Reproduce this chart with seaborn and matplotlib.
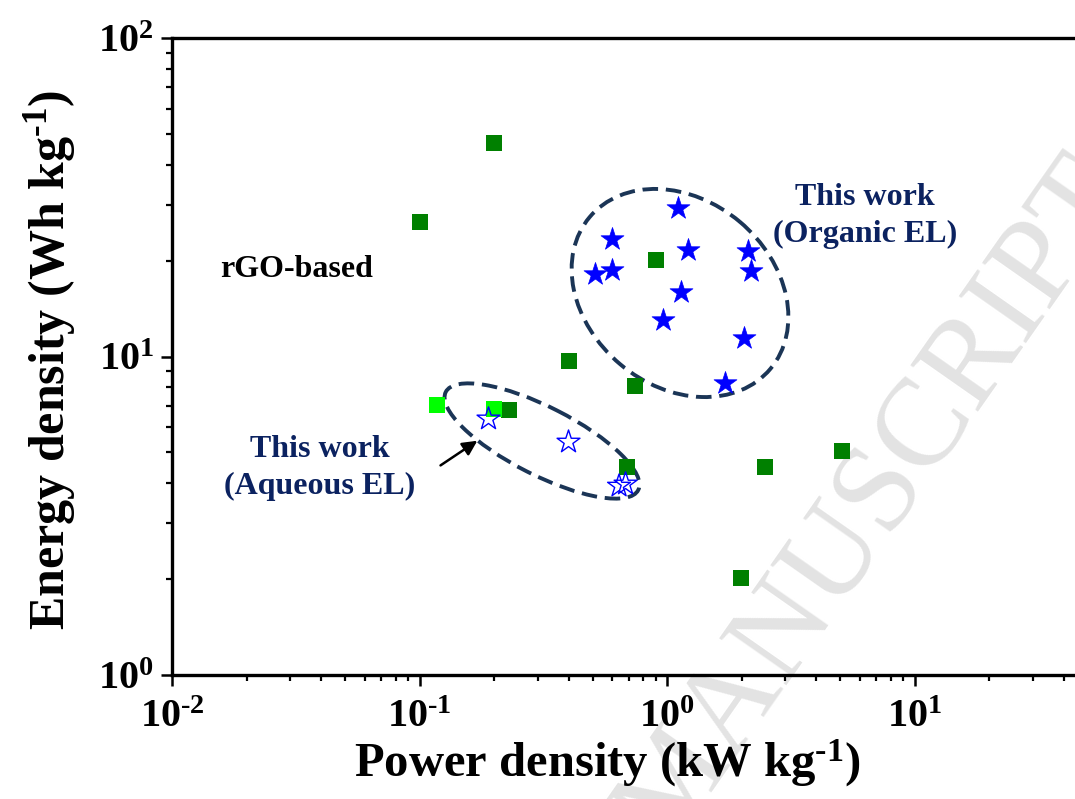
import numpy as np
import pandas as pd
import seaborn as sns
import matplotlib.pyplot as plt
from matplotlib.patches import Ellipse
from matplotlib.transforms import Affine2D
from matplotlib.ticker import LogLocator, FixedLocator, FuncFormatter, NullFormatter

# rGO-based literature values (dark green)
rgo_power = [0.20, 0.10, 0.90, 0.40, 0.74, 0.23, 0.69, 2.49, 5.1, 1.99]
rgo_energy = [46.8, 26.4, 20.1, 9.7, 8.1, 6.8, 4.5, 4.5, 5.05, 2.02]
# light green literature values
lit2_power = [0.118, 0.20]
lit2_energy = [7.04, 6.84]
# this work, organic electrolyte (filled stars)
org_power = [1.11, 0.60, 1.22, 2.13, 2.19, 0.51, 0.60, 1.14, 0.96, 2.05, 1.72]
org_energy = [29.3, 23.4, 21.6, 21.4, 18.5, 18.2, 18.7, 15.9, 13.0, 11.4, 8.26]
# this work, aqueous electrolyte (hollow stars)
aq_power = [0.19, 0.40, 0.68, 0.64]
aq_energy = [6.37, 5.39, 3.98, 3.92]

sns.set_style("ticks")
plt.rcParams['font.family'] = ['Liberation Serif', 'DejaVu Serif']
plt.rcParams['font.weight'] = 'bold'
plt.rcParams['mathtext.fontset'] = 'custom'
plt.rcParams['mathtext.rm'] = 'Liberation Serif:bold'
plt.rcParams['mathtext.bf'] = 'Liberation Serif:bold'
plt.rcParams['mathtext.it'] = 'Liberation Serif:bold:italic'
plt.rcParams['text.color'] = 'black'
plt.rcParams['axes.labelcolor'] = 'black'
plt.rcParams['xtick.color'] = 'black'
plt.rcParams['ytick.color'] = 'black'

fig = plt.figure(figsize=(10.75, 7.99), dpi=100)
fig.patch.set_facecolor('white')
ax = fig.add_axes([172 / 1075, 124 / 799, 1 - 172 / 1075, 637 / 799])
ax.set_facecolor('none')

# watermark of the source document
fig.text(1.03, 0.78, 'ACCEPTED MANUSCRIPT', fontsize=90, color='#e3e3e3',
         fontweight='normal', rotation=55, rotation_mode='anchor',
         ha='right', va='center', zorder=-1)

navy = '#0b2260'
sns.scatterplot(x=rgo_power, y=rgo_energy, marker='s', s=135, color='#008000',
                linewidth=0, ax=ax, zorder=3)
sns.scatterplot(x=lit2_power, y=lit2_energy, marker='s', s=135, color='#00ff00',
                linewidth=0, ax=ax, zorder=3)
sns.scatterplot(x=org_power, y=org_energy, marker='*', s=300, color='#0000ff',
                linewidth=0.5, edgecolor='#0000ff', ax=ax, zorder=4)
sns.scatterplot(x=aq_power, y=aq_energy, marker='*', s=300, facecolors='none',
                edgecolors='#0000ff', linewidth=1.0, ax=ax, zorder=4)

ax.set_xscale('log')
ax.set_yscale('log')
ax.set_xlim(0.01, 44.5)
ax.set_ylim(1, 100)

# ellipses drawn in image pixel coordinates
pix = Affine2D().scale(1 / 1075, -1 / 799).translate(0, 1) + fig.transFigure
ell_col = '#1b3556'
ax.add_patch(Ellipse((680, 293), 2 * 118, 2 * 93, angle=40, transform=pix,
                     fill=False, ec=ell_col, lw=2.8, ls=(0, (4, 2)), zorder=2))
ax.add_patch(Ellipse((542, 441), 2 * 108, 2 * 34, angle=27, transform=pix,
                     fill=False, ec=ell_col, lw=2.8, ls=(0, (4, 2)), zorder=2))

ax.annotate('', xy=(0.175, 5.5), xytext=(0.119, 4.50),
            arrowprops=dict(arrowstyle='-|>', color='black', lw=1.8,
                            mutation_scale=22))

ax.text(0.0156, 18.7, 'rGO-based', fontsize=23, color='black', ha='left', va='center')
ax.text(865, 216, 'This work\n(Organic EL)', transform=pix, fontsize=23, color=navy,
        ha='center', va='center', linespacing=1.35)
ax.text(320, 468, 'This work\n(Aqueous EL)', transform=pix, fontsize=23, color=navy,
        ha='center', va='center', linespacing=1.35)

def sci(v, pos):
    e = int(round(np.log10(v)))
    if e < 0:
        return r'$10^{\text{-}%d}$' % (-e)
    return r'$10^{%d}$' % e

ax.xaxis.set_major_locator(FixedLocator([0.01, 0.1, 1, 10]))
ax.yaxis.set_major_locator(FixedLocator([1, 10, 100]))
ax.xaxis.set_major_formatter(FuncFormatter(sci))
ax.yaxis.set_major_formatter(FuncFormatter(sci))
ax.xaxis.set_minor_locator(LogLocator(base=10, subs=np.arange(2, 10), numticks=20))
ax.yaxis.set_minor_locator(LogLocator(base=10, subs=np.arange(2, 10), numticks=20))
ax.xaxis.set_minor_formatter(NullFormatter())
ax.yaxis.set_minor_formatter(NullFormatter())

ax.tick_params(which='major', direction='out', length=8, width=1.8, labelsize=29,
               top=False, right=False)
ax.tick_params(axis='x', which='major', pad=9)
ax.tick_params(axis='y', which='major', pad=5)
ax.tick_params(which='minor', direction='out', length=4.5, width=1.6, top=False, right=False)
for side in ['left', 'bottom', 'top']:
    ax.spines[side].set_linewidth(2.4)
    ax.spines[side].set_color('black')
ax.spines['right'].set_visible(False)

ax.set_xlabel(r'Power density (kW kg$^{\text{-}1}$)', fontsize=35, fontweight='bold')
ax.xaxis.set_label_coords(0.482, -0.098)
ax.set_ylabel(r'Energy density (Wh kg$^{\text{-}1}$)', fontsize=36, fontweight='bold')
ax.yaxis.set_label_coords(-0.104, 0.495)

fig.savefig('out.png', dpi=100)
